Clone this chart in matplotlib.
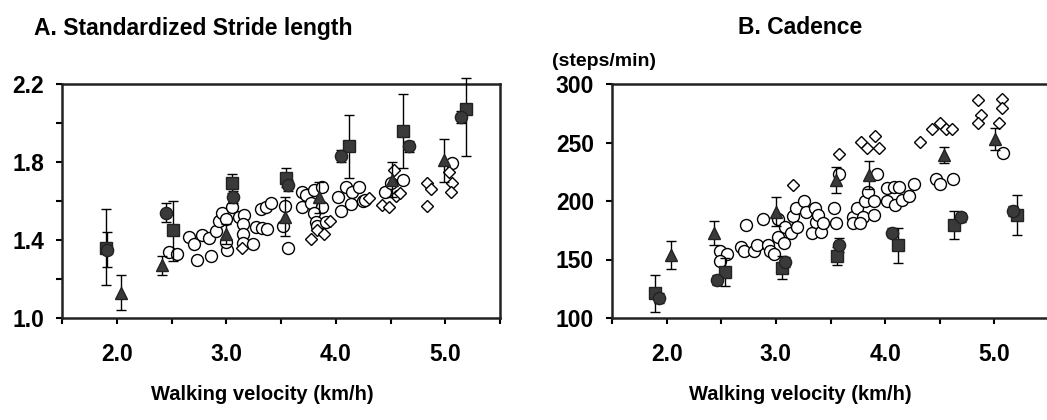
import numpy as np
import matplotlib.pyplot as plt

plt.rcParams['font.family'] = ['Liberation Sans', 'DejaVu Sans']
plt.rcParams['font.weight'] = 'bold'

# ---- A. standardized stride length ----
a_circ_x = [2.48, 2.55, 2.66, 2.71, 2.73, 2.78, 2.84, 2.86, 2.91, 2.93, 2.96, 3.00, 3.01, 3.00,
            3.05, 3.12, 3.16, 3.15, 3.15, 3.15, 3.24, 3.27, 3.32, 3.36, 3.41, 3.33, 3.37,
            3.54, 3.52, 3.56, 3.69, 3.73, 3.80, 3.87, 3.69, 3.77, 3.87, 3.80, 3.82, 3.83, 3.91,
            4.02, 4.09, 4.15, 4.21, 4.05, 4.14, 4.25, 4.27, 4.45, 4.50, 4.61, 5.06]
a_circ_y = [1.34, 1.33, 1.415, 1.38, 1.30, 1.425, 1.41, 1.32, 1.446, 1.50, 1.54, 1.51, 1.35, 1.39,
            1.57, 1.52, 1.53, 1.48, 1.43, 1.385, 1.38, 1.465, 1.56, 1.57, 1.59, 1.46, 1.455,
            1.575, 1.47, 1.36, 1.646, 1.63, 1.656, 1.67, 1.57, 1.59, 1.57, 1.54, 1.49, 1.47, 1.49,
            1.62, 1.67, 1.646, 1.67, 1.55, 1.585, 1.60, 1.605, 1.646, 1.69, 1.71, 1.795]
a_diam_x = [3.14, 3.77, 3.83, 3.89, 3.95, 4.30, 4.53, 4.42, 4.49, 4.55, 4.59, 4.83, 4.87, 4.83,
            5.03, 5.06, 5.05]
a_diam_y = [1.36, 1.405, 1.45, 1.43, 1.50, 1.615, 1.76, 1.58, 1.57, 1.625, 1.64, 1.69, 1.66, 1.574,
            1.75, 1.69, 1.646]
a_sq_x = [1.90, 2.51, 3.05, 3.55, 4.12, 4.61, 5.19]
a_sq_y = [1.36, 1.45, 1.69, 1.72, 1.88, 1.96, 2.07]
a_sq_lo = [0.19, 0.16, 0.05, 0.05, 0.16, 0.19, 0.24]
a_sq_hi = [0.20, 0.15, 0.05, 0.05, 0.16, 0.19, 0.16]
a_dot_x = [1.91, 2.45, 3.06, 3.56, 4.05, 4.67, 5.14]
a_dot_y = [1.35, 1.54, 1.62, 1.68, 1.83, 1.88, 2.03]
a_dot_e = [0.09, 0.05, 0.03, 0.03, 0.03, 0.03, 0.03]
a_tri_x = [2.04, 2.41, 3.00, 3.54, 3.85, 4.51, 4.99]
a_tri_y = [1.13, 1.27, 1.43, 1.52, 1.62, 1.71, 1.81]
a_tri_e = [0.09, 0.05, 0.05, 0.10, 0.08, 0.09, 0.11]

# ---- B. cadence ----
b_circ_x = [2.49, 2.55, 2.49, 2.73, 2.68, 2.71, 2.80, 2.83, 2.88, 2.93, 2.95, 2.98, 3.02, 3.07,
            3.02, 3.08, 3.14, 3.16, 3.18, 3.19, 3.26, 3.28, 3.33, 3.36, 3.37, 3.39, 3.41, 3.43,
            3.53, 3.55, 3.58, 3.71, 3.74, 3.71, 3.80, 3.82, 3.84, 3.90, 3.90, 3.93, 3.77,
            4.02, 4.08, 4.13, 4.26, 4.02, 4.09, 4.15, 4.22, 4.47, 4.50, 4.62, 5.08]
b_circ_y = [157, 154.7, 148.7, 179.5, 160.7, 157, 157, 162, 184.6, 162, 157, 154.7, 169, 164,
            184.6, 178, 172.6, 187, 194, 178, 200, 190.6, 172.6, 194, 182, 188, 173.5, 181,
            194, 181, 223, 186, 194, 181, 186, 200, 207.7, 200, 188, 223, 181,
            211, 212, 212, 214.5, 200, 197, 201, 204, 219, 214.5, 219, 241]
b_diam_x = [3.16, 3.58, 3.78, 3.83, 3.91, 3.94, 4.32, 4.43, 4.50, 4.56, 4.61, 4.85, 4.88, 4.85,
            5.07, 5.07, 5.04]
b_diam_y = [213.7, 240, 250.4, 245, 255.6, 245, 250.4, 261.5, 266.6, 261.5, 261.5, 286.3, 273.5,
            266.6, 287, 279.5, 266.6]
b_sq_x = [1.89, 2.53, 3.06, 3.56, 4.12, 4.63, 5.21]
b_sq_y = [121, 139, 143, 153, 162, 179.5, 188]
b_sq_lo = [16, 12, 10, 8, 15, 12, 17]
b_sq_hi = [16, 12, 10, 8, 15, 12, 17]
b_dot_x = [1.93, 2.46, 3.08, 3.58, 4.06, 4.69, 5.17]
b_dot_y = [117, 132.5, 148, 162, 173, 186, 191.5]
b_dot_e = [4, 4, 4, 6, 4, 4, 4]
b_tri_x = [2.04, 2.43, 3.00, 3.55, 3.85, 4.54, 5.01]
b_tri_y = [154, 172.6, 191, 218, 222, 239.3, 253]
b_tri_e = [12, 10, 12, 11, 12, 7, 9]

dark = '#3a3a3a'


def draw(ax, cx, cy, dx, dy, sx, sy, slo, shi, ox, oy, oe, tx, ty, te):
    ax.plot(cx, cy, 'o', ms=8.6, mfc='white', mec='black', mew=1.0, ls='none', zorder=3)
    ax.plot(dx, dy, 'D', ms=6.6, mfc='white', mec='black', mew=1.0, ls='none', zorder=3)
    kw = dict(ls='none', ecolor='black', elinewidth=1.0, capsize=3.8, capthick=1.0,
              mec='#222222', mfc=dark, zorder=4)
    ax.errorbar(sx, sy, yerr=[slo, shi], fmt='s', ms=8.5, clip_on=False, **kw)
    ax.errorbar(ox, oy, yerr=oe, fmt='o', ms=8.8, **kw)
    ax.errorbar(tx, ty, yerr=te, fmt='^', ms=9.2, **kw)
    ax.set_xlim(1.5, 5.5)
    ax.set_xticks(np.arange(1.5, 5.51, 0.5))
    ax.set_xticklabels(['' if v % 1 else f'{v:.1f}' for v in np.arange(1.5, 5.51, 0.5)])
    for s in ax.spines.values():
        s.set_linewidth(1.8)
        s.set_color('#222222')
    ax.tick_params(direction='out', length=4, width=1.5, labelsize=16.5)
    ax.tick_params(axis='y', pad=9)
    ax.tick_params(axis='x', pad=14)


fig = plt.figure(figsize=(10.47, 4.2), dpi=100)
ax1 = fig.add_axes([62 / 1047, 102 / 420, 438 / 1047, 234 / 420])
ax2 = fig.add_axes([612 / 1047, 102 / 420, 437 / 1047, 234 / 420])

draw(ax1, a_circ_x, a_circ_y, a_diam_x, a_diam_y, a_sq_x, a_sq_y, a_sq_lo, a_sq_hi,
     a_dot_x, a_dot_y, a_dot_e, a_tri_x, a_tri_y, a_tri_e)
ax1.set_ylim(1.0, 2.2)
yt = np.arange(1.0, 2.21, 0.2)
ax1.set_yticks(yt)
ax1.set_yticklabels([f'{v:.1f}' if i % 2 == 0 else '' for i, v in enumerate(yt)])

draw(ax2, b_circ_x, b_circ_y, b_diam_x, b_diam_y, b_sq_x, b_sq_y, b_sq_lo, b_sq_hi,
     b_dot_x, b_dot_y, b_dot_e, b_tri_x, b_tri_y, b_tri_e)
ax2.set_ylim(100, 300)
ax2.set_yticks(range(100, 301, 50))
ax2.set_yticklabels([str(v) for v in range(100, 301, 50)])

fig.text(193 / 1047, 1 - 28 / 420, 'A. Standardized Stride length', ha='center', va='center',
         fontsize=16.5, fontweight='bold')
fig.text(800 / 1047, 1 - 28 / 420, 'B. Cadence', ha='center', va='center',
         fontsize=16.5, fontweight='bold')
fig.text(604 / 1047, 1 - 62 / 420, '(steps/min)', ha='center', va='center',
         fontsize=14, fontweight='bold')
fig.text(262 / 1047, 1 - 395 / 420, 'Walking velocity (km/h)', ha='center', va='center',
         fontsize=14.5, fontweight='bold')
fig.text(800 / 1047, 1 - 395 / 420, 'Walking velocity (km/h)', ha='center', va='center',
         fontsize=14.5, fontweight='bold')

fig.savefig('out.png', dpi=100)
